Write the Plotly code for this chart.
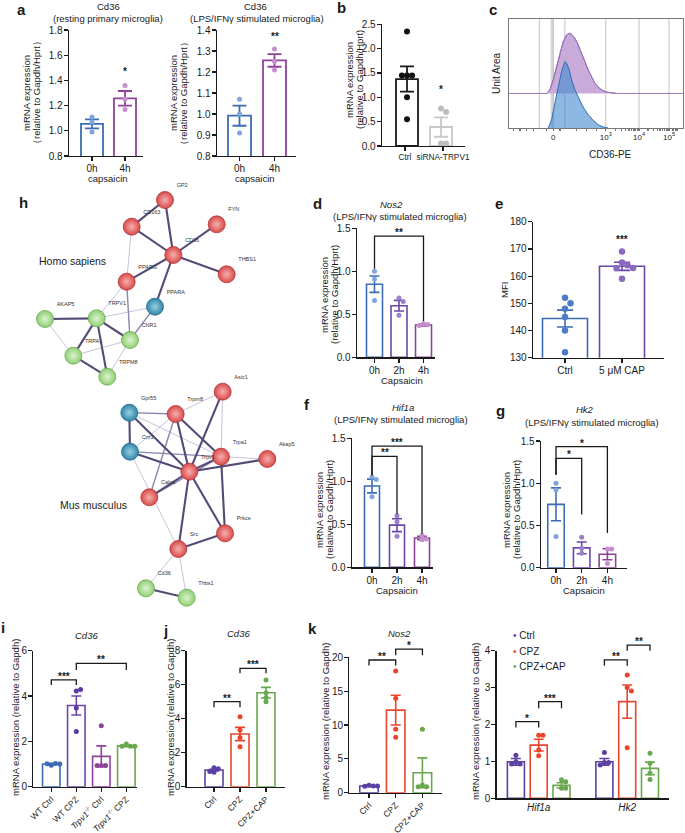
import numpy as np
import plotly.graph_objects as go

W, H = 685, 833
FONT = "Liberation Sans, Arial, sans-serif"
INK = "#1a1a1a"

# ======================= DATA =======================
# a  Cd36 (resting / LPS-IFNg microglia)
a_labels = ["0h", "4h"]
a1_means = [1.055, 1.258]
a1_sems = [0.035, 0.058]
a1_points = [[1.11, 1.07, 0.99], [1.36, 1.25, 1.17]]
a1_star = ("*", 1, 1.44)
a2_means = [0.992, 1.255]
a2_sems = [0.048, 0.030]
a2_points = [[1.07, 1.00, 0.91], [1.31, 1.25, 1.21]]
a2_star = ("**", 1, 1.352)

# b  siRNA
b_labels = ["Ctrl", "siRNA-TRPV1"]
b_means = [1.375, 0.39]
b_sems = [0.26, 0.20]
b_points = [[2.35, 1.45, 1.45, 1.45, 1.00, 0.55], [0.77, 0.70, 0.05, 0.05]]
b_star = ("*", 1, 1.08)

# c  flow histogram (display channel units / arbitrary counts)
c_x_purple = [350, 360, 370, 380, 390, 400, 410, 418, 425, 435, 445, 455, 465, 475, 485, 495, 505, 515, 530, 545, 560]
c_purple = [0, 11, 41, 81, 121, 156, 176, 181, 178, 166, 146, 123, 96, 71, 49, 31, 19, 11, 4, 1, 0]
c_purple_offset = 104
c_x_blue = [355, 365, 375, 385, 395, 405, 410, 418, 425, 435, 445, 455, 465, 475, 490, 505, 520, 535]
c_blue = [0, 25, 75, 125, 170, 200, 195, 175, 145, 115, 92, 72, 55, 40, 23, 10, 3, 0]
c_tickvals = [370, 528, 628, 718]
c_ticktext = ["0", "10<sup>3</sup>", "10<sup>4</sup>", "10<sup>5</sup>"]
c_gridvals = [328, 370, 405, 528, 628, 718]

# d  Nos2
t_labels = ["0h", "2h", "4h"]
d_means = [0.85, 0.60, 0.376]
d_sems = [0.095, 0.062, 0.012]
d_points = [[1.00, 0.91, 0.66], [0.69, 0.65, 0.49], [0.39, 0.38, 0.37]]
d_brackets = [(0, 2, 1.41, 1.03, 0.42, "**")]

# e  MFI
e_labels = ["Ctrl", "5 μM CAP"]
e_means = [144.4, 163.6]
e_sems = [3.1, 1.5]
e_points = [[152, 150, 148, 145, 140, 132], [169, 165, 164, 163, 163, 159]]
e_star = ("***", 1, 172)

# f  Hif1a
f_means = [0.945, 0.49, 0.34]
f_sems = [0.08, 0.075, 0.02]
f_points = [[1.05, 1.02, 0.82], [0.60, 0.53, 0.36], [0.37, 0.33, 0.32]]
f_brackets = [(0, 1, 1.29, 1.07, 0.62, "**"), (0, 2, 1.41, 1.07, 0.39, "***")]

# g  Hk2
g_means = [0.75, 0.235, 0.16]
g_sems = [0.195, 0.07, 0.065]
g_points = [[1.00, 0.92, 0.37], [0.36, 0.23, 0.17], [0.22, 0.22, 0.05]]
g_brackets = [(0, 1, 1.295, 1.10, 0.63, "*"), (0, 2, 1.433, 1.10, 0.41, "*")]

# h  STRING networks (layout coordinates)
H_nodes = ["GP2", "CD163", "FYN", "CD36", "THBS1", "PPARG", "PPARA", "AKAP5", "TRPV1", "CNR1", "TRPA1", "TRPM8"]
H_x = [495, 395, 650, 520, 680, 380, 465, 135, 290, 390, 220, 322]
H_y = [45, 125, 118, 210, 268, 290, 365, 402, 400, 465, 512, 575]
H_group = ["r", "r", "r", "r", "r", "r", "b", "g", "g", "g", "g", "g"]
H_edges = [("GP2", "CD163", 3), ("GP2", "CD36", 3), ("CD163", "CD36", 3), ("FYN", "CD36", 3),
           ("CD36", "THBS1", 3), ("CD36", "PPARG", 3), ("CD36", "PPARA", 3), ("CD163", "PPARG", 1),
           ("PPARG", "TRPV1", 1), ("PPARG", "CNR1", 2), ("PPARA", "TRPV1", 1), ("PPARA", "CNR1", 2),
           ("AKAP5", "TRPV1", 3), ("AKAP5", "TRPA1", 1), ("TRPV1", "TRPA1", 3), ("TRPV1", "CNR1", 3),
           ("TRPV1", "TRPM8", 3), ("TRPA1", "CNR1", 1), ("TRPA1", "TRPM8", 3), ("CNR1", "TRPM8", 1)]
M_nodes = ["Asic1", "Trpm8", "Gpr55", "Cnr1", "Trpa1", "Akap5", "Trpv1", "Calca", "Prkce", "Src", "Cd36", "Thbs1"]
M_x = [668, 527, 388, 390, 663, 802, 568, 448, 675, 535, 438, 560]
M_y = [620, 687, 683, 800, 815, 822, 860, 937, 1045, 1092, 1210, 1238]
M_group = ["r", "r", "b", "b", "r", "r", "r", "r", "r", "r", "g", "g"]
M_edges = [("Asic1", "Trpm8", 1), ("Asic1", "Trpv1", 3), ("Asic1", "Trpa1", 1), ("Gpr55", "Trpm8", 2),
           ("Gpr55", "Cnr1", 3), ("Gpr55", "Trpv1", 3), ("Gpr55", "Trpa1", 1), ("Trpm8", "Cnr1", 1),
           ("Trpm8", "Trpv1", 3), ("Trpm8", "Trpa1", 3), ("Trpm8", "Calca", 2), ("Cnr1", "Trpa1", 2),
           ("Cnr1", "Trpv1", 3), ("Cnr1", "Src", 1), ("Trpa1", "Akap5", 1), ("Trpv1", "Akap5", 3),
           ("Trpv1", "Trpa1", 3), ("Trpv1", "Calca", 3), ("Trpv1", "Prkce", 3), ("Trpv1", "Src", 3),
           ("Trpa1", "Prkce", 3), ("Calca", "Trpa1", 2), ("Prkce", "Src", 3), ("Src", "Cd36", 1),
           ("Src", "Thbs1", 1), ("Cd36", "Thbs1", 3)]

# i  Cd36 knockout
i_labels = ["WT Ctrl", "WT CPZ", "<i>Trpv1</i><sup>-/-</sup> Ctrl", "<i>Trpv1</i><sup>-/-</sup> CPZ"]
i_means = [1.0, 3.58, 1.34, 1.80]
i_sems = [0.03, 0.42, 0.46, 0.03]
i_points = [[0.95, 1.02, 1.01, 1.0], [4.22, 4.29, 3.47, 2.43], [2.69, 0.93, 0.93, 0.93], [1.88, 1.79, 1.79, 1.78]]
i_brackets = [(0, 1, 4.71, 4.49, 4.49, "***"), (1, 3, 5.44, 5.15, 5.15, "**")]

# j  Cd36 CPZ
k_groups = ["Ctrl", "CPZ", "CPZ+CAP"]
j_means = [0.98, 3.10, 5.53]
j_sems = [0.05, 0.39, 0.31]
j_points = [[1.12, 1.06, 0.85, 0.90], [4.12, 3.33, 2.90, 2.35], [6.27, 5.53, 5.25, 5.00]]
j_brackets = [(0, 1, 5.0, 4.67, 4.67, "**"), (1, 2, 6.96, 6.67, 6.67, "***")]

# k  Nos2
k_means = [1.0, 12.2, 2.95]
k_sems = [0.08, 2.2, 2.2]
k_points = [[1.10, 1.00, 0.95, 1.00], [17.98, 13.94, 9.36, 8.18], [9.36, 1.13, 0.89, 0.89]]
k_brackets = [(0, 1, 19.6, 18.8, 18.8, "**"), (1, 2, 21.2, 20.3, 20.3, "*")]

# k right  Hif1a / Hk2
kr_genes = ["Hif1a", "Hk2"]
kr_means = [[0.99, 1.44, 0.35], [0.99, 2.62, 0.81]]
kr_sems = [[0.09, 0.16, 0.07], [0.09, 0.45, 0.17]]
kr_points = [[[1.17, 0.99, 0.93, 0.93], [1.71, 1.71, 1.31, 1.15], [0.50, 0.45, 0.27, 0.27]],
             [[1.24, 0.97, 0.97, 0.90], [3.34, 3.00, 2.91, 1.37], [1.22, 0.95, 0.68, 0.51]]]
kr_brackets = [(0, 0, 1, 2.08, 1.92, "*"), (0, 1, 2, 2.62, 2.44, "***"),
               (1, 0, 1, 3.75, 3.59, "**"), (1, 1, 2, 4.15, 4.00, "**")]

# ======================= COLOURS =======================
BLUE, BLUE_PT = "#3c6db4", "#7fa5dc"
PURP, PURP_PT = "#6b46a8", "#9a80cc"
MAG, MAG_PT = "#8e4399", "#c58fcd"
GREEN = "#6aa84f"
RED = "#e8452c"
KPURP = "#5b3fa3"

# ======================= HELPERS =======================
fig = go.Figure()
LAY, ANN, SHP = {}, [], []
_n = [0]

AX_BASE = dict(showline=True, linecolor=INK, linewidth=1.3, ticks="outside", ticklen=4, tickwidth=1.2,
               tickcolor=INK, showgrid=False, zeroline=False, fixedrange=True, automargin=False,
               ticklabelstandoff=-1, tickfont=dict(size=10, family=FONT, color=INK))


def add_axes(box, xr, yr, xkw=None, ykw=None):
    x0, x1, yt, yb = box
    _n[0] += 1
    s = "" if _n[0] == 1 else str(_n[0])
    xa = dict(AX_BASE, domain=[x0 / W, x1 / W], anchor="y" + s, range=list(xr))
    ya = dict(AX_BASE, domain=[1 - yb / H, 1 - yt / H], anchor="x" + s, range=list(yr))
    xa.update(xkw or {})
    ya.update(ykw or {})
    LAY["xaxis" + s] = xa
    LAY["yaxis" + s] = ya
    return "x" + s, "y" + s


def add_overlay(box, xr, yr, extra=30):
    x0, x1, yt, yb = box
    span = yr[1] - yr[0]
    yr2 = [yr[0], yr[0] + span * (yb - yt + extra) / (yb - yt)]
    return add_axes((x0, x1, yt - extra, yb), xr, yr2, dict(visible=False), dict(visible=False))


def ann(text, x, y, size=10, angle=0, bold=False, italic=False, xanchor="center", yanchor="middle"):
    if italic:
        text = "<i>" + text + "</i>"
    if bold:
        text = "<b>" + text + "</b>"
    ANN.append(dict(text=text, x=x / W, y=1 - y / H, xref="paper", yref="paper", showarrow=False,
                    textangle=angle, xanchor=xanchor, yanchor=yanchor,
                    font=dict(size=size, family=FONT, color=INK)))


def swarm(vals, xscale, yscale, d):
    placed, offs = [], []
    for v in vals:
        ox = 0.0
        for k in (0, 1, -1, 2, -2, 3, -3, 4, -4):
            ox = k * d * 0.85
            if all((ox - px) ** 2 + ((v - pv) * yscale) ** 2 >= (0.85 * d) ** 2 for px, pv in placed):
                break
        placed.append((ox, v))
        offs.append(ox / xscale)
    return offs


def bar_panel(box, c0, s, bw, yr, dtick, labels, means, sems, points, bar_cols, pt_cols,
              xpos=None, tickvals=None, msize=5, lw=1.6, cap=5, tickfmt=".1f", xkw=None, ykw=None):
    x0, x1, yt, yb = box
    n = len(means)
    xpos = list(range(n)) if xpos is None else xpos
    tickvals = xpos if tickvals is None else tickvals
    xr = [(x0 - c0) / s, (x1 - c0) / s]
    xk = dict(tickmode="array", tickvals=tickvals, ticktext=labels, tickangle=0)
    xk.update(xkw or {})
    yk = dict(tickmode="linear", tick0=yr[0], dtick=dtick, tickformat=tickfmt)
    yk.update(ykw or {})
    xa, ya = add_axes(box, xr, yr, xk, yk)
    yscale = (yb - yt) / (yr[1] - yr[0])
    for i in range(n):
        fig.add_trace(go.Bar(x=[xpos[i]], y=[means[i]], width=bw / s,
                             marker=dict(color="white", line=dict(color=bar_cols[i], width=lw)),
                             error_y=dict(type="data", array=[sems[i]], color=bar_cols[i], thickness=lw, width=cap),
                             xaxis=xa, yaxis=ya, showlegend=False, hoverinfo="skip"))
    for i in range(n):
        offs = swarm(points[i], s, yscale, msize)
        fig.add_trace(go.Scatter(x=[xpos[i] + o for o in offs], y=points[i], mode="markers",
                                 marker=dict(size=msize, color=pt_cols[i], line=dict(width=0)),
                                 xaxis=xa, yaxis=ya, showlegend=False, cliponaxis=False, hoverinfo="skip"))
    return xa, ya, xr


def star(xa, ya, x, y, text):
    ANN.append(dict(x=x, y=y, xref=xa, yref=ya, text="<b>" + text + "</b>", showarrow=False,
                    yanchor="bottom", yshift=-4, font=dict(size=10, family=FONT, color=INK)))


def bracket(xa, ya, xl, xr_, y, yl, yr_, text):
    fig.add_trace(go.Scatter(x=[xl, xl, xr_, xr_], y=[yl, y, y, yr_], mode="lines",
                             line=dict(color=INK, width=1.3), xaxis=xa, yaxis=ya,
                             showlegend=False, hoverinfo="skip"))
    star(xa, ya, (xl + xr_) / 2, y, text)


ROT = dict(tickangle=-45, tickfont=dict(size=8.5, family=FONT, color=INK))

# ======================= PANEL a =======================
box = (69, 143, 30, 156)
xa, ya, xr = bar_panel(box, 92, 33, 22, [0.8, 1.8], 0.2, a_labels, a1_means, a1_sems, a1_points,
                       [BLUE, MAG], [BLUE_PT, MAG_PT], cap=7, lw=1.8)
star(xa, ya, a1_star[1], a1_star[2], a1_star[0])
box = (217, 296, 30, 156)
xa, ya, xr = bar_panel(box, 239.5, 35, 23, [0.8, 1.4], 0.1, a_labels, a2_means, a2_sems, a2_points,
                       [BLUE, MAG], [BLUE_PT, MAG_PT], cap=7, lw=1.8)
star(xa, ya, a2_star[1], a2_star[2], a2_star[0])

# ======================= PANEL b =======================
box = (382, 465, 24.3, 146)
xa, ya, xr = bar_panel(box, 407, 34, 22, [0, 2.5], 0.5, b_labels, b_means, b_sems, b_points,
                       [INK, "#c8c8c8"], ["#111111", "#bdbdbd"], msize=6, cap=7, lw=1.8,
                       tickvals=[-0.06, 1.06],
                       xkw=dict(tickfont=dict(size=8.3, family=FONT, color=INK)))
star(xa, ya, b_star[1], b_star[2], b_star[0])

# ======================= PANEL c =======================
cx, cy = add_axes((509, 683, 19, 128), [237, 760], [0, 328],
                  dict(tickmode="array", tickvals=c_tickvals, ticktext=c_ticktext, showgrid=False,
                       mirror=True, linecolor="#777", linewidth=1,
                       ticks="outside", ticklen=2, tickcolor="#777",
                       tickfont=dict(size=8, family=FONT, color=INK),
                       minor=dict(tickmode="array", ticks="outside", ticklen=2, tickcolor="#777",
                                  tickvals=[250, 270, 290, 310, 350, 390, 440, 470, 500]
                                  + [528 + 100 * np.log10(k) for k in range(2, 10)]
                                  + [628 + 90 * np.log10(k) for k in range(2, 10)]
                                  + [718 + 40 * np.log10(k) for k in range(2, 5)])),
                  dict(showticklabels=False, ticks="", mirror=True, linecolor="#777", linewidth=1))
SHP.append(dict(type="rect", xref=cx, yref=cy, x0=362, x1=372, y0=0, y1=328, fillcolor="#d6d6d6",
                line=dict(width=0), layer="below"))
for gv in c_gridvals:
    SHP.append(dict(type="line", xref=cx, yref=cy, x0=gv, x1=gv, y0=0, y1=328,
                    line=dict(color="#c4c4c4", width=1), layer="below"))
py = [c_purple_offset + v for v in c_purple]
fig.add_trace(go.Scatter(x=c_x_purple, y=py, mode="lines", fill="toself", fillcolor="#c9abda",
                         line=dict(color="#8a5aad", width=1), xaxis=cx, yaxis=cy, showlegend=False,
                         hoverinfo="skip"))
fig.add_trace(go.Scatter(x=[237] + c_x_purple + [760], y=[c_purple_offset] + py + [c_purple_offset],
                         mode="lines", line=dict(color="#9b75bb", width=1), xaxis=cx, yaxis=cy,
                         showlegend=False, hoverinfo="skip"))
fig.add_trace(go.Scatter(x=c_x_blue, y=c_blue, mode="lines", fill="toself", fillcolor="rgba(70,140,210,0.62)",
                         line=dict(color="#2d6cb5", width=1), xaxis=cx, yaxis=cy, showlegend=False,
                         hoverinfo="skip"))

# ======================= PANEL d =======================
box = (357, 435, 228.3, 357.3)
xa, ya, xr = bar_panel(box, 374.5, 24.5, 16, [0, 1.5], 0.5, t_labels, d_means, d_sems, d_points,
                       [BLUE, PURP, MAG], [BLUE_PT, PURP_PT, MAG_PT], cap=5)
ox, oy = add_overlay(box, xr, [0, 1.5])
for l, r, y, yl, yr_, t in d_brackets:
    bracket(ox, oy, l, r, y, yl, yr_, t)

# ======================= PANEL e =======================
box = (533, 664, 221.7, 357.7)
xa, ya, xr = bar_panel(box, 565, 57, 45, [130, 180], 10, e_labels, e_means, e_sems, e_points,
                       [BLUE, PURP], ["#4d7cc6", "#8a69bf"], msize=6.5, cap=8, tickfmt="d")
star(xa, ya, e_star[1], e_star[2], e_star[0])

# ======================= PANEL f =======================
box = (352, 433, 438.3, 567.3)
xa, ya, xr = bar_panel(box, 372, 25, 15, [0, 1.5], 0.5, t_labels, f_means, f_sems, f_points,
                       [BLUE, PURP, MAG], [BLUE_PT, PURP_PT, MAG_PT], cap=5)
ox, oy = add_overlay(box, xr, [0, 1.5])
for l, r, y, yl, yr_, t in f_brackets:
    bracket(ox, oy, l, r, y, yl, yr_, t)

# ======================= PANEL g =======================
box = (541, 627, 441, 567.7)
xa, ya, xr = bar_panel(box, 556, 25.7, 16.5, [0, 1.5], 0.5, t_labels, g_means, g_sems, g_points,
                       [BLUE, PURP, MAG], [BLUE_PT, PURP_PT, MAG_PT], cap=5)
ox, oy = add_overlay(box, xr, [0, 1.5])
for l, r, y, yl, yr_, t in g_brackets:
    bracket(ox, oy, l, r, y, yl, yr_, t)

# ======================= PANEL h =======================
hx, hy = add_axes((0, 300, 185, 625), [0, 900], [1320, 0], dict(visible=False), dict(visible=False))
EDGE_STYLE = {1: ("#b9b2cf", 0.8), 2: ("#8d84ad", 1.4), 3: ("#544a78", 2.1)}
NODE_STYLE = {"r": ("#d94a4a", "#f6b0ae", "#b33535"),
              "g": ("#8fcf72", "#dcf3cf", "#6aa850"),
              "b": ("#2f86a8", "#9ad0e2", "#236a88")}


def network(names, xs, ys, groups, edges):
    idx = {nm: i for i, nm in enumerate(names)}
    for wt, (col, lw) in EDGE_STYLE.items():
        ex, ey = [], []
        for a, b, w in edges:
            if w != wt:
                continue
            ex += [xs[idx[a]], xs[idx[b]], None]
            ey += [ys[idx[a]], ys[idx[b]], None]
        fig.add_trace(go.Scatter(x=ex, y=ey, mode="lines", line=dict(color=col, width=lw),
                                 xaxis=hx, yaxis=hy, showlegend=False, hoverinfo="skip"))
    for g, (edge, center, line) in NODE_STYLE.items():
        sel = [i for i in range(len(names)) if groups[i] == g]
        fig.add_trace(go.Scatter(x=[xs[i] for i in sel], y=[ys[i] for i in sel], mode="markers+text",
                                 text=[names[i] for i in sel], textposition="top right",
                                 textfont=dict(size=5.5, family=FONT, color="#333"),
                                 marker=dict(size=17, color=edge, gradient=dict(type="radial", color=center),
                                             line=dict(color=line, width=0.8)),
                                 xaxis=hx, yaxis=hy, showlegend=False, cliponaxis=False, hoverinfo="skip"))


network(H_nodes, H_x, H_y, H_group, H_edges)
network(M_nodes, M_x, M_y, M_group, M_edges)
ann("Homo sapiens", 72, 261, size=10.5)
ann("Mus musculus", 93, 505, size=10.5)

# ======================= PANEL i =======================
box = (33.3, 136.7, 650.7, 786.7)
xa, ya, xr = bar_panel(box, 51.3, 25, 17.5, [0, 6], 2, i_labels, i_means, i_sems, i_points,
                       [BLUE, PURP, MAG, GREEN], [BLUE, "#5a3a9e", MAG, GREEN], cap=5, tickfmt="d",
                       xkw=ROT)
ox, oy = add_overlay(box, xr, [0, 6])
for l, r, y, yl, yr_, t in i_brackets:
    bracket(ox, oy, l, r, y, yl, yr_, t)

# ======================= PANEL j =======================
box = (186.7, 285, 650.7, 786.7)
xa, ya, xr = bar_panel(box, 214, 26, 18, [0, 8], 2, k_groups, j_means, j_sems, j_points,
                       [KPURP, RED, GREEN], [KPURP, RED, GREEN], cap=5, tickfmt="d", xkw=ROT)
ox, oy = add_overlay(box, xr, [0, 8])
for l, r, y, yl, yr_, t in j_brackets:
    bracket(ox, oy, l, r, y, yl, yr_, t)

# ======================= PANEL k (Nos2) =======================
box = (349.3, 441.7, 657.3, 792.7)
xa, ya, xr = bar_panel(box, 369, 26.7, 18.5, [0, 20], 5, k_groups, k_means, k_sems, k_points,
                       [KPURP, RED, GREEN], [KPURP, RED, GREEN], cap=5, tickfmt="d", xkw=ROT)
ox, oy = add_overlay(box, xr, [0, 20])
for l, r, y, yl, yr_, t in k_brackets:
    bracket(ox, oy, l, r, y, yl, yr_, t)

# ======================= PANEL k (Hif1a / Hk2) =======================
box = (496.7, 669.3, 650.7, 798.3)
off = 22.8 / 88.5
kr_xpos, kr_m, kr_s, kr_p, kr_c = [], [], [], [], []
for gi in range(len(kr_genes)):
    for ci in range(len(k_groups)):
        kr_xpos.append(gi + (ci - 1) * off)
        kr_m.append(kr_means[gi][ci])
        kr_s.append(kr_sems[gi][ci])
        kr_p.append(kr_points[gi][ci])
        kr_c.append([KPURP, RED, GREEN][ci])
xa, ya, xr = bar_panel(box, 538.7, 88.5, 17, [0, 4], 1, ["<i>%s</i>" % g for g in kr_genes],
                       kr_m, kr_s, kr_p, kr_c, kr_c, xpos=kr_xpos, tickvals=[0, 1], cap=5, tickfmt="d",
                       xkw=dict(ticks=""))
ox, oy = add_overlay(box, xr, [0, 4])
for gi, l, r, y, yl, t in kr_brackets:
    bracket(ox, oy, gi + (l - 1) * off, gi + (r - 1) * off, y, yl, yl, t)

# legend
for lab, col, yy in zip(k_groups, [KPURP, RED, GREEN], [635, 651.7, 666.7]):
    ANN.append(dict(text="<span style='color:%s'>•</span> %s" % (col, lab), x=511 / W, y=1 - yy / H,
                    xref="paper", yref="paper", showarrow=False, xanchor="left", yanchor="middle",
                    font=dict(size=10, family=FONT, color=INK)))

# ======================= TEXT =======================
for L, x, y in [("a", 21, 9), ("b", 341, 8), ("c", 493, 9), ("h", 23, 202), ("d", 317, 203),
                ("e", 499, 203), ("f", 307, 404), ("g", 500, 411), ("i", 3, 627), ("j", 165, 630),
                ("k", 312, 628)]:
    ann(L, x, y, size=15, bold=True)

ann("Cd36", 108, 6.5, 9.5)
ann("(resting primary microglia)", 108, 19, 9.5)
ann("Cd36", 255, 6.5, 9.5)
ann("(LPS/IFNγ stimulated microglia)", 257, 19, 9.5)
ann("Nos2", 392, 204, 9.5, italic=True)
ann("(LPS/IFNγ stimulated microglia)", 400, 216.5, 9.5)
ann("Hif1a", 403, 407, 9.5, italic=True)
ann("(LPS/IFNγ stimulated microglia)", 401, 419.5, 9.5)
ann("Hk2", 585, 409.5, 9.5, italic=True)
ann("(LPS/IFNγ stimulated microglia)", 592, 422, 9.5)
ann("Cd36", 87, 635, 9.5, italic=True)
ann("Cd36", 238, 633, 9.5, italic=True)
ann("Nos2", 400, 633, 9.5, italic=True)

for x1_, x2_, yc, par in [(26, 36, 93, "（relative to Gapdh/Hprt）"), (173, 183, 93, "（relative to Gapdh/Hprt）"),
                          (350, 360, 80, "(relative to Gapdh/Hprt)"), (324, 334, 295, "(relative to Gapdh/Hprt)"),
                          (319, 329, 510, "(relative to Gapdh/Hprt)"), (506, 516, 510, "(relative to Gapdh/Hprt)")]:
    ann("mRNA expression", x1_, yc, 9.5, angle=-90)
    ann(par, x2_, yc, 9.5, angle=-90)
ann("MFI", 504, 290, 9.5, angle=-90)
for x_, y_ in [(15, 718), (170, 718), (325, 722), (475, 722)]:
    ann("mRNA expression (relative to Gapdh)", x_, y_, 9.5, angle=-90)
ann("Unit Area", 496, 73, 10, angle=-90)

ann("capsaicin", 108, 178, 9.5)
ann("capsaicin", 255, 178, 9.5)
ann("Capsaicin", 402, 380, 9.5)
ann("Capsaicin", 397, 590, 9.5)
ann("Capsaicin", 584, 590, 9.5)
ann("CD36-PE", 610, 154, 10)

fig.update_layout(width=W, height=H, margin=dict(l=0, r=0, t=0, b=0, autoexpand=False), paper_bgcolor="white",
                  plot_bgcolor="rgba(0,0,0,0)", barmode="overlay", showlegend=False, hovermode=False,
                  font=dict(family=FONT, size=10, color=INK), annotations=ANN, shapes=SHP, **LAY)
fig.write_html("out.html", config={"displayModeBar": False, "staticPlot": True},
               post_script="document.body.style.margin='0';document.body.style.padding='0';"
                           "document.body.style.overflow='hidden';")
